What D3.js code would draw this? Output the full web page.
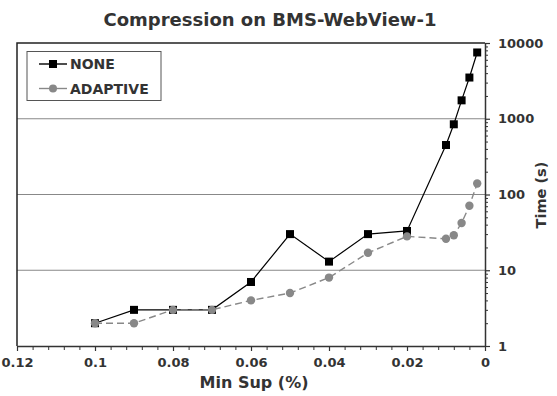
<!DOCTYPE html>
<html>
<head>
<meta charset="utf-8">
<script src="https://cdn.jsdelivr.net/npm/d3@7"></script>
<style>
  body { margin: 0; background: #fff; }
  svg text { font-family: "DejaVu Sans", sans-serif; font-weight: bold; fill: #333; }
</style>
</head>
<body>
<svg id="chart" width="557" height="396"></svg>
<script>
// min support (%) values, shared by both series
const minSup = [0.1, 0.09, 0.08, 0.07, 0.06, 0.05, 0.04, 0.03, 0.02, 0.01, 0.008, 0.006, 0.004, 0.002];
const noneTimes = [2, 3, 3, 3, 7, 30, 13, 30, 33, 450, 845, 1750, 3500, 7500];
const adaptiveTimes = [2, 2, 3, 3, 4, 5, 8, 17, 28, 26, 29, 42, 71, 140];
const xTicks = [0.12, 0.1, 0.08, 0.06, 0.04, 0.02, 0];
const yTicks = [1, 10, 100, 1000, 10000];

const svg = d3.select('#chart');
const plotL = 17, plotR = 485, plotT = 43, plotB = 346;

const x = d3.scaleLinear().domain([0.12, 0]).range([plotL, plotR]);
const y = d3.scaleLog().domain([1, 10000]).range([plotB, plotT]);

// title
svg.append('text')
  .attr('x', 270).attr('y', 26)
  .attr('text-anchor', 'middle')
  .style('font-size', '18px')
  .text('Compression on BMS-WebView-1');

// gridlines
svg.append('g')
  .selectAll('line')
  .data([10, 100, 1000])
  .join('line')
  .attr('x1', plotL).attr('x2', plotR)
  .attr('y1', d => y(d)).attr('y2', d => y(d))
  .attr('stroke', '#888').attr('stroke-width', 1.2);

// frame top + left
svg.append('path')
  .attr('d', `M${plotL},${plotB}V${plotT}H${plotR}`)
  .attr('fill', 'none').attr('stroke', '#222').attr('stroke-width', 1.5);

// x axis, minor then major
const xMinor = d3.range(0, 0.1201, 0.004);
svg.append('g')
  .attr('transform', `translate(0,${plotB})`)
  .call(d3.axisBottom(x).tickValues(xMinor).tickSize(4).tickFormat(''))
  .call(g => g.select('.domain').remove())
  .call(g => g.selectAll('line').attr('stroke', '#333'));

svg.append('g')
  .attr('transform', `translate(0,${plotB})`)
  .call(d3.axisBottom(x).tickValues(xTicks).tickSize(5).tickSizeOuter(0).tickPadding(7)
    .tickFormat(d => d === 0 ? '0' : String(d)))
  .call(g => g.select('.domain').attr('stroke', '#333').attr('stroke-width', 1.5))
  .call(g => g.selectAll('line').attr('stroke', '#333').attr('stroke-width', 1.2))
  .call(g => g.selectAll('text').style('font-size', '13px').attr('fill', '#333'));

// y axis on right
const yMinor = [];
for (let p = 1; p < 10000; p *= 10) for (let k = 2; k <= 9; k++) yMinor.push(p * k);
svg.append('g')
  .attr('transform', `translate(${plotR},0)`)
  .call(d3.axisRight(y).tickValues(yMinor).tickSize(3).tickFormat(''))
  .call(g => g.select('.domain').remove())
  .call(g => g.selectAll('line').attr('stroke', '#333'));

svg.append('g')
  .attr('transform', `translate(${plotR},0)`)
  .call(d3.axisRight(y).tickValues(yTicks).tickSize(5).tickSizeOuter(0).tickPadding(8)
    .tickFormat(d3.format('d')))
  .call(g => g.select('.domain').attr('stroke', '#333').attr('stroke-width', 1.5))
  .call(g => g.selectAll('line').attr('stroke', '#333').attr('stroke-width', 1.2))
  .call(g => g.selectAll('text').style('font-size', '13px').attr('fill', '#333'));

// axis titles
svg.append('text')
  .attr('x', 254).attr('y', 388)
  .attr('text-anchor', 'middle')
  .style('font-size', '16px')
  .text('Min Sup (%)');

svg.append('text')
  .attr('transform', 'translate(546,195) rotate(-90)')
  .attr('text-anchor', 'middle')
  .style('font-size', '14.5px')
  .text('Time (s)');

// series
const noneData = minSup.map((s, i) => ({ s, t: noneTimes[i] }));
const adaptData = minSup.map((s, i) => ({ s, t: adaptiveTimes[i] }));
const line = d3.line().x(d => x(d.s)).y(d => y(d.t));

svg.append('path')
  .datum(noneData)
  .attr('d', line)
  .attr('fill', 'none').attr('stroke', '#000').attr('stroke-width', 1.2);

svg.append('g')
  .selectAll('rect')
  .data(noneData)
  .join('rect')
  .attr('x', d => x(d.s) - 4).attr('y', d => y(d.t) - 4)
  .attr('width', 8).attr('height', 8)
  .attr('fill', '#000');

svg.append('path')
  .datum(adaptData)
  .attr('d', line)
  .attr('fill', 'none').attr('stroke', '#888').attr('stroke-width', 1.4)
  .attr('stroke-dasharray', '7,4');

svg.append('g')
  .selectAll('circle')
  .data(adaptData)
  .join('circle')
  .attr('cx', d => x(d.s)).attr('cy', d => y(d.t))
  .attr('r', 4.2)
  .attr('fill', '#888');

// legend
const legend = svg.append('g');
legend.append('rect')
  .attr('x', 27).attr('y', 51.5).attr('width', 134).attr('height', 49)
  .attr('fill', '#fff').attr('stroke', '#555').attr('stroke-width', 1);

const items = [
  { name: 'NONE', color: '#000', shape: 'square', yy: 64 },
  { name: 'ADAPTIVE', color: '#888', shape: 'circle', yy: 88.5 }
];
items.forEach(it => {
  legend.append('line')
    .attr('x1', 39).attr('x2', 67).attr('y1', it.yy).attr('y2', it.yy)
    .attr('stroke', it.color).attr('stroke-width', 1.4);
  if (it.shape === 'square') {
    legend.append('rect')
      .attr('x', 49).attr('y', it.yy - 4).attr('width', 8).attr('height', 8)
      .attr('fill', it.color);
  } else {
    legend.append('circle')
      .attr('cx', 53).attr('cy', it.yy).attr('r', 4)
      .attr('fill', it.color);
  }
  legend.append('text')
    .attr('x', 70).attr('y', it.yy + 5)
    .style('font-size', '14px')
    .text(it.name);
});
</script>
</body>
</html>
